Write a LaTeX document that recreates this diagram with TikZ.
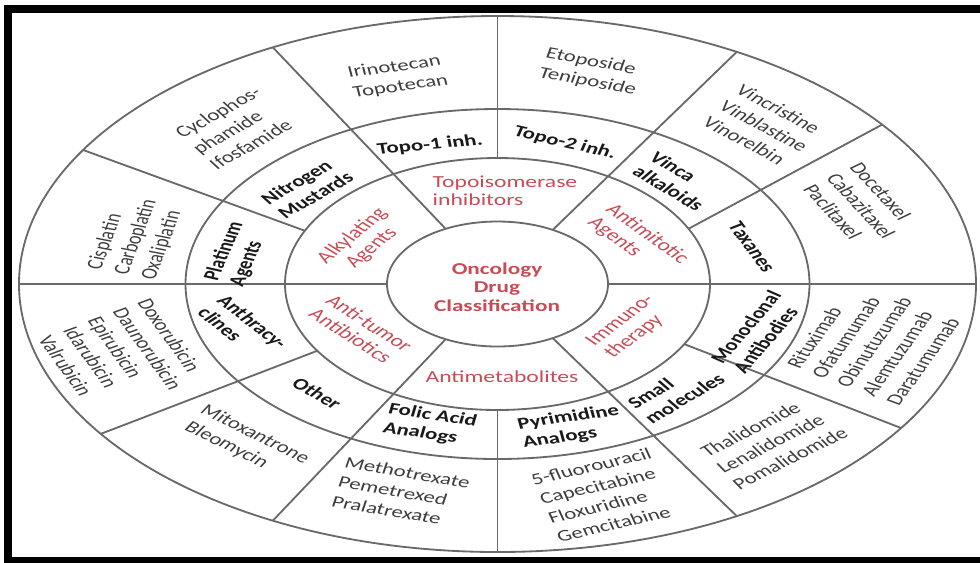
\documentclass[tikz,border=0pt]{standalone}
\usepackage{fontspec}
\setmainfont{Carlito}
\usetikzlibrary{calc}

\definecolor{ringline}{RGB}{105,105,105}
\definecolor{drugtext}{RGB}{62,62,62}
\definecolor{classred}{RGB}{200,75,85}

\tikzset{
  ring/.style={draw=ringline, line width=1.3pt},
  drug/.style={text=drugtext, font=\fontsize{11.6}{14.2}\selectfont, align=left, xscale=1.4, inner sep=0pt},
  subgroup/.style={text=black!90, font=\fontsize{11.6}{13.5}\selectfont\bfseries, align=left, xscale=1.4, inner sep=0pt},
  drugclass/.style={text=classred, font=\fontsize{12}{13}\selectfont, align=left, xscale=1.4, inner sep=0pt},
  hub/.style={text=classred, font=\fontsize{11.8}{13.1}\selectfont\bfseries, align=center, xscale=1.4, inner sep=0pt},
}

\begin{document}
\begin{tikzpicture}[x=0.025cm, y=-0.025cm]
    \useasboundingbox (0,0) rectangle (980,562);

    % frame
    \draw[line width=0.2cm] (990,9) -- (8,9) -- (8,561) -- (990,561);

    \coordinate (c) at (497.5,284);

    % rings
    \draw[ring] (c) ellipse [x radius=478.5, y radius=268];
    \draw[ring] (c) ellipse [x radius=312, y radius=175];
    \draw[ring] (c) ellipse [x radius=212.5, y radius=126];
    \draw[ring] (c) ellipse [x radius=110.5, y radius=62.5];

    % spokes from the hub
    \foreach \ta/\tb in {-118/-118, -60/-60, 0/0, 180/180, 118/118, 60/60}
        \draw[ring] ($(c)+(\ta:110.5 and 62.5)$) -- ($(c)+(\tb:478.5 and 268)$);
    % spokes from the class ring
    \foreach \ta/\tb in {-90/-90, 90/90, -26/-36.5, -155/-150, 28.5/32.5, 148/146}
        \draw[ring] ($(c)+(\ta:212.5 and 126)$) -- ($(c)+(\tb:478.5 and 268)$);

    % hub
    \node[hub] (hubtext) at (497,287) {Oncology\\Drug\\Classification};

    % drug classes
    \node[drugclass] (topo) at (505,191) {Topoisomerase\\inhibitors};
    \node[drugclass, align=center, rotate=49.1] (alkyl) at (362,242) {Alkylating\\Agents};
    \node[drugclass, rotate=-44.7] (antimit) at (638,241) {Antimitotic\\Agents};
    \node[drugclass, rotate=46.5] (immuno) at (630,327) {Immuno-\\therapy};
    \node[drugclass] (antimet) at (502,377) {Antimetabolites};
    \node[drugclass, rotate=-41.7] (antitum) at (361,330) {Anti-tumor\\Antibiotics};

    % sub-groups
    \node[subgroup, rotate=7.5] (topoone) at (430,145) {Topo-1 inh.};
    \node[subgroup, rotate=-17.5] (topotwo) at (565,143) {Topo-2 inh.};
    \node[subgroup, rotate=38.9] (nitro) at (307,188) {Nitrogen\\Mustards};
    \node[subgroup, rotate=72.4] (plat) at (237,254) {Platinum\\Agents};
    \node[subgroup, rotate=-47.6] (anthra) at (243,328) {Anthracy-\\clines};
    \node[subgroup, rotate=-38.6] (other) at (317,393) {Other};
    \node[subgroup, rotate=-11.8] (folic) at (430,425) {Folic Acid\\Analogs};
    \node[subgroup, rotate=11.1] (pyrim) at (571,427) {Pyrimidine\\Analogs};
    \node[subgroup, rotate=39.5] (small) at (676,391) {Small\\molecules};
    \node[subgroup, rotate=58.2] (mab) at (757,332) {Monoclonal\\Antibodies};
    \node[subgroup, rotate=-61.5] (taxane) at (752,247) {Taxanes};
    \node[subgroup, rotate=-39.5] (vinca) at (677,181) {Vinca\\alkaloids};

    % drugs
    \node[drug, rotate=10.6] (irino) at (398,77) {Irinotecan\\Topotecan};
    \node[drug, rotate=37.8] (cyclo) at (235,128) {Cyclophos-\\phamide\\Ifosfamide};
    \node[drug, rotate=74.7] (cispl) at (136,237) {Cisplatin\\Carboplatin\\Oxaliplatin};
    \node[drug, rotate=-62.6] (doxo) at (123,358) {Doxorubicin\\Daunorubicin\\Epirubicin\\Idarubicin\\Valrubicin};
    \node[drug, rotate=-34.3] (mitox) at (247,443) {Mitoxantrone\\Bleomycin};
    \node[drug, rotate=-13.5] (metho) at (401,492) {Methotrexate\\Pemetrexed\\Pralatrexate};
    \node[drug, rotate=17.9] (fluoro) at (604,495) {5-fluorouracil\\Capecitabine\\Floxuridine\\Gemcitabine};
    \node[drug, rotate=34.9] (thali) at (774,442) {Thalidomide\\Lenalidomide\\Pomalidomide};
    \node[drug, rotate=62.6] (ritux) at (874,342) {Rituximab\\Ofatumumab\\Obinutuzumab\\Alemtuzumab\\Daratumumab};
    \node[drug, rotate=-56.3] (doce) at (861,206) {Docetaxel\\Cabazitaxel\\Paclitaxel};
    \node[drug, rotate=-36.7] (vincr) at (764,126) {Vincristine\\Vinblastine\\Vinorelbin};
    \node[drug, rotate=-14.5] (etopo) at (591,72) {Etoposide\\Teniposide};

\end{tikzpicture}
\end{document}
